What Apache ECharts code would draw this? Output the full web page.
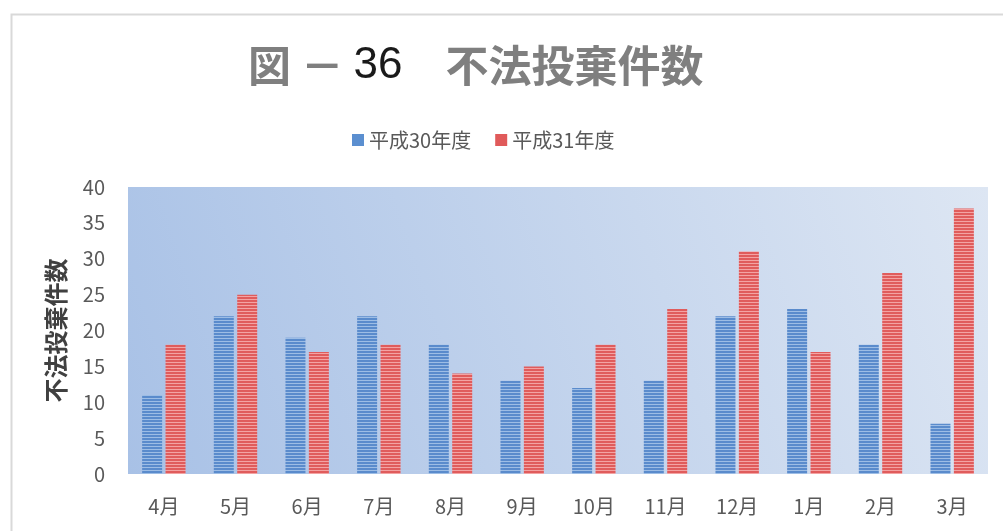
<!DOCTYPE html>
<html>
<head>
<meta charset="utf-8">
<script src="https://cdn.jsdelivr.net/npm/echarts@6/dist/echarts.min.js"></script>
<style>
  html, body { margin: 0; padding: 0; background: #ffffff; }
  #chart { width: 1003px; height: 531px; }
</style>
</head>
<body>
<div id="chart"></div>
<script>
// Monthly counts of illegal dumping cases, fiscal years H30 and H31
const months = ['4月', '5月', '6月', '7月', '8月', '9月', '10月', '11月', '12月', '1月', '2月', '3月'];
const seriesNames = ['平成30年度', '平成31年度'];
const countsH30 = [11, 22, 19, 22, 18, 13, 12, 13, 22, 23, 18, 7];
const countsH31 = [18, 25, 17, 18, 14, 15, 18, 23, 31, 17, 28, 37];
const yTicks = [0, 5, 10, 15, 20, 25, 30, 35, 40];

// Horizontal stripe fill used for the bars
function stripes(dark, light) {
  const c = document.createElement('canvas');
  c.width = 4;
  c.height = 3;
  const g = c.getContext('2d');
  g.fillStyle = dark;
  g.fillRect(0, 0, 4, 2);
  g.fillStyle = light;
  g.fillRect(0, 2, 4, 1);
  return { image: c, repeat: 'repeat' };
}

const chart = echarts.init(document.getElementById('chart'), null, { renderer: 'canvas' });

const greyBold = { color: '#7f7f7f', fontSize: 43, fontWeight: 'bold', fontFamily: 'Noto Sans CJK JP' };

chart.setOption({
  backgroundColor: '#ffffff',
  animation: false,
  graphic: [{
    type: 'rect',
    left: 9, top: 12,
    shape: { width: 1010, height: 540 },
    style: { fill: 'none', stroke: '#d9d9d9', lineWidth: 2 },
    silent: true
  }],
  title: {
    left: 243,
    top: 39,
    text: '{g|図 － }{n|36}{g|　不法投棄件数}',
    textStyle: {
      rich: {
        g: greyBold,
        n: { color: '#1a1a1a', fontSize: 44, fontWeight: 'normal', fontFamily: 'Liberation Sans' }
      }
    }
  },
  legend: {
    left: 347,
    top: 125,
    itemWidth: 12,
    itemHeight: 12,
    itemGap: 24,
    icon: 'rect',
    textStyle: { color: '#595959', fontSize: 20, fontFamily: 'Noto Sans CJK JP' },
    data: [
      { name: seriesNames[0], itemStyle: { color: '#5b8fd0' } },
      { name: seriesNames[1], itemStyle: { color: '#e05a5a' } }
    ]
  },
  grid: {
    left: 128,
    right: 15,
    top: 187,
    bottom: 57,
    show: true,
    borderWidth: 0,
    backgroundColor: new echarts.graphic.LinearGradient(0, 1, 1, 0, [
      { offset: 0, color: '#a8c1e6' },
      { offset: 1, color: '#dde6f3' }
    ])
  },
  xAxis: {
    type: 'category',
    data: months,
    axisLine: { show: false },
    axisTick: { show: false },
    axisLabel: { color: '#595959', fontSize: 20, margin: 22, fontFamily: 'Noto Sans CJK JP' }
  },
  yAxis: {
    type: 'value',
    min: yTicks[0],
    max: yTicks[yTicks.length - 1],
    interval: yTicks[1] - yTicks[0],
    name: '不法投棄件数',
    nameLocation: 'middle',
    nameRotate: 90,
    nameGap: 60,
    nameTextStyle: { color: '#404040', fontSize: 24, fontWeight: 'bold', fontFamily: 'Noto Sans CJK JP' },
    axisLine: { show: false },
    axisTick: { show: false },
    splitLine: { show: false },
    axisLabel: { color: '#595959', fontSize: 20, margin: 23, fontFamily: 'Noto Sans CJK JP' }
  },
  series: [
    {
      name: seriesNames[0],
      type: 'bar',
      data: countsH30,
      barWidth: 20,
      barGap: '17%',
      itemStyle: { color: stripes('#5a8bcc', '#9dbde5') }
    },
    {
      name: seriesNames[1],
      type: 'bar',
      data: countsH31,
      barWidth: 20,
      barGap: '17%',
      itemStyle: { color: stripes('#e05c5c', '#f3a3a3') }
    }
  ]
});
</script>
</body>
</html>
